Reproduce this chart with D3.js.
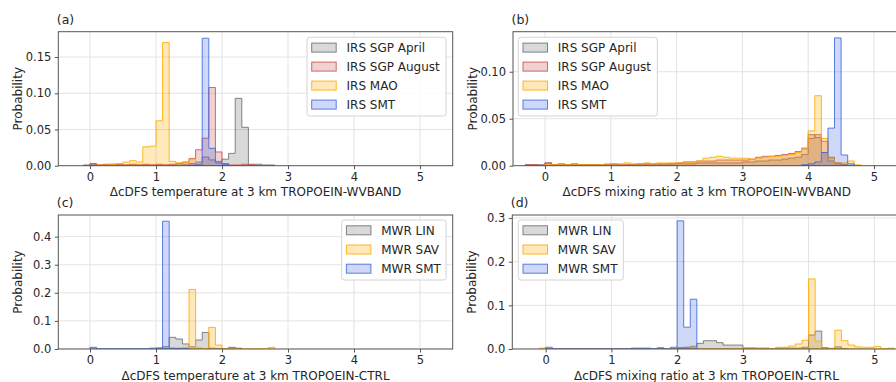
<!DOCTYPE html>
<html>
<head>
<meta charset="utf-8">
<script src="https://cdn.jsdelivr.net/npm/d3@7"></script>
<style>
  html, body { margin: 0; padding: 0; background: #fff; }
  svg { display: block; font-family: "DejaVu Sans", sans-serif; }
</style>
</head>
<body>
<svg id="fig" width="896" height="382"></svg>
<script>
// ---- Histogram data: probability per 0.1-wide bin, listed from a first bin edge ----
const binWidth = 0.1;
const xTickValues = [0, 1, 2, 3, 4, 5];

const irsNames = ["IRS SGP April", "IRS SGP August", "IRS MAO", "IRS SMT"];
const mwrNames = ["MWR LIN", "MWR SAV", "MWR SMT"];

// (a) temperature, TROPOEIN-WVBAND
const aAprilStart = -0.1;
const aApril = [0.001, 0.002, 0.001, 0.001, 0.001, 0.001, 0.001, 0.001, 0.001, 0.001, 0.001, 0.001,
  0.001, 0.001, 0.001, 0.002, 0.003, 0.005, 0.012, 0.008, 0.006, 0.009, 0.017, 0.093, 0.053, 0.002,
  0.002, 0.001, 0.001];
const aAugustStart = 0.0;
const aAugust = [0.003, 0.001, 0.002, 0.002, 0.002, 0.001, 0.002, 0.001, 0.002, 0.001, 0.002, 0.001,
  0.002, 0.003, 0.005, 0.010, 0.022, 0.038, 0.108, 0.019, 0.003, 0.001, 0.001, 0.002, 0.001];
const aMaoStart = 0.1;
const aMao = [0.001, 0.001, 0.002, 0.003, 0.005, 0.007, 0.005, 0.026, 0.027, 0.062, 0.170, 0.006,
  0.004, 0.005, 0.009, 0.001, 0.001];
const aSmtStart = 1.5;
const aSmt = [0.001, 0.002, 0.176, 0.024, 0.004, 0.002];
const aYTicks = [0, 0.05, 0.10, 0.15];

// (b) mixing ratio, TROPOEIN-WVBAND
const bAprilStart = -0.3;
const bApril = [0.001, 0.001, 0.001, 0.003, 0.001, 0.001, 0.001, 0.001, 0.001, 0.001, 0.001, 0.001,
  0.001, 0.001, 0.001, 0.001, 0.001, 0.001, 0.001, 0.001, 0.001, 0.001, 0.002, 0.002, 0.002, 0.002,
  0.003, 0.003, 0.003, 0.003, 0.003, 0.003, 0.003, 0.004, 0.004, 0.005, 0.005, 0.006, 0.006, 0.007,
  0.008, 0.009, 0.012, 0.033, 0.030, 0.014, 0.005, 0.002, 0.001];
const bAugustStart = -0.3;
const bAugust = [0.001, 0.001, 0.000, 0.003, 0.001, 0.002, 0.001, 0.002, 0.001, 0.001, 0.001, 0.001,
  0.001, 0.002, 0.001, 0.001, 0.001, 0.002, 0.002, 0.002, 0.002, 0.002, 0.002, 0.003, 0.004, 0.004,
  0.005, 0.005, 0.005, 0.006, 0.006, 0.006, 0.006, 0.006, 0.007, 0.009, 0.010, 0.010, 0.011, 0.012,
  0.013, 0.015, 0.018, 0.029, 0.033, 0.026, 0.009, 0.003, 0.001];
const bMaoStart = 0.0;
const bMao = [0.001, 0.001, 0.001, 0.001, 0.001, 0.001, 0.001, 0.001, 0.001, 0.002, 0.002, 0.002,
  0.003, 0.002, 0.002, 0.003, 0.002, 0.003, 0.003, 0.003, 0.003, 0.004, 0.004, 0.005, 0.008, 0.009,
  0.010, 0.009, 0.008, 0.008, 0.008, 0.007, 0.008, 0.009, 0.010, 0.010, 0.011, 0.012, 0.014, 0.019,
  0.037, 0.0745, 0.029, 0.008, 0.003, 0.003, 0.005, 0.001];
const bSmtStart = 3.9;
const bSmt = [0.001, 0.002, 0.004, 0.014, 0.040, 0.136, 0.0114, 0.002];
const bYTicks = [0, 0.05, 0.10];

// (c) temperature, TROPOEIN-CTRL
const cLinStart = 1.0;
const cLin = [0.001, 0.008, 0.0415, 0.0356, 0.018, 0.008, 0.032, 0.059, 0.003, 0.002, 0.001, 0.006, 0.003];
const cSavStart = 1.3;
const cSav = [0.003, 0.006, 0.212, 0.004, 0.001, 0.077, 0.014, 0, 0, 0, 0, 0, 0, 0, 0.006];
const cSmtStart = 0.0;
const cSmt = [0.006, 0, 0, 0, 0, 0, 0, 0, 0, 0.003, 0.004, 0.455, 0.003, 0.002, 0.001];
const cYTicks = [0, 0.1, 0.2, 0.3, 0.4];

// (d) mixing ratio, TROPOEIN-CTRL
const dLinStart = 2.0;
const dLin = [0.003, 0.004, 0.006, 0.013, 0.019, 0.019, 0.0145, 0.009, 0.009, 0.009, 0.002, 0.002,
  0.002, 0.002, 0.001, 0.002, 0.002, 0.002, 0.002, 0.004, 0.032, 0.041, 0.003, 0.001, 0.005, 0.001];
const dSavStart = -0.1;
const dSav = [0.002, 0.001, 0, 0, 0, 0, 0, 0, 0, 0, 0, 0, 0, 0, 0, 0, 0, 0, 0, 0, 0, 0, 0, 0.005,
  0, 0, 0, 0, 0, 0, 0, 0.003, 0.003, 0, 0, 0, 0.004, 0.004, 0.007, 0.0115, 0.020, 0.1606, 0.018, 0.001,
  0.002, 0.043, 0.019, 0.009, 0.005, 0.004, 0.004, 0.006, 0.001, 0.002];
const dSmtStart = 0.0;
const dSmt = [0.004, 0, 0, 0, 0, 0, 0, 0, 0, 0, 0, 0, 0, 0.002, 0.002, 0.002, 0, 0.003, 0, 0.004,
  0.2936, 0.050, 0.114];
const dYTicks = [0, 0.1, 0.2, 0.3];

// ---- Series styles ----
const styles = {
  gray:   { fill: "rgba(128,128,128,0.30)", stroke: "rgba(110,110,110,0.85)" },
  red:    { fill: "rgba(205,92,92,0.28)",   stroke: "rgba(205,80,80,0.85)" },
  orange: { fill: "rgba(255,170,0,0.27)",   stroke: "rgba(255,170,0,0.85)" },
  blue:   { fill: "rgba(65,105,225,0.25)",  stroke: "rgba(65,105,225,0.85)" }
};

const panels = [
  {
    tag: "(a)", box: { l: 58.3, r: 452.7, t: 31.7, b: 165.7 }, xDomain: [-0.48, 5.495], yDomain: [0, 0.185],
    yTicks: aYTicks, yFmt: ".2f", xLabel: "ΔcDFS temperature at 3 km TROPOEIN-WVBAND",
    legend: { x: 307, y: 37.3, w: 139, h: 78.7 },
    series: [
      { name: irsNames[0], start: aAprilStart, values: aApril, style: styles.gray },
      { name: irsNames[1], start: aAugustStart, values: aAugust, style: styles.red },
      { name: irsNames[2], start: aMaoStart, values: aMao, style: styles.orange },
      { name: irsNames[3], start: aSmtStart, values: aSmt, style: styles.blue }
    ]
  },
  {
    tag: "(b)", box: { l: 513, r: 906.5, t: 31.7, b: 165.7 }, xDomain: [-0.486, 5.494], yDomain: [0, 0.1426],
    yTicks: bYTicks, yFmt: ".2f", xLabel: "ΔcDFS mixing ratio at 3 km TROPOEIN-WVBAND",
    legend: { x: 518.3, y: 37.3, w: 139, h: 78.7 },
    series: [
      { name: irsNames[0], start: bAprilStart, values: bApril, style: styles.gray },
      { name: irsNames[1], start: bAugustStart, values: bAugust, style: styles.red },
      { name: irsNames[2], start: bMaoStart, values: bMao, style: styles.orange },
      { name: irsNames[3], start: bSmtStart, values: bSmt, style: styles.blue }
    ]
  },
  {
    tag: "(c)", box: { l: 58.3, r: 452.7, t: 215, b: 349 }, xDomain: [-0.48, 5.495], yDomain: [0, 0.477],
    yTicks: cYTicks, yFmt: ".1f", xLabel: "ΔcDFS temperature at 3 km TROPOEIN-CTRL",
    legend: { x: 341.7, y: 220, w: 104.3, h: 60 },
    series: [
      { name: mwrNames[0], start: cLinStart, values: cLin, style: styles.gray },
      { name: mwrNames[1], start: cSavStart, values: cSav, style: styles.orange },
      { name: mwrNames[2], start: cSmtStart, values: cSmt, style: styles.blue }
    ]
  },
  {
    tag: "(d)", box: { l: 512.3, r: 906.5, t: 215, b: 349 }, xDomain: [-0.508, 5.49], yDomain: [0, 0.307],
    yTicks: dYTicks, yFmt: ".1f", xLabel: "ΔcDFS mixing ratio at 3 km TROPOEIN-CTRL",
    legend: { x: 518.3, y: 220, w: 105, h: 60 },
    series: [
      { name: mwrNames[0], start: dLinStart, values: dLin, style: styles.gray },
      { name: mwrNames[1], start: dSavStart, values: dSav, style: styles.orange },
      { name: mwrNames[2], start: dSmtStart, values: dSmt, style: styles.blue }
    ]
  }
];

const svg = d3.select("#fig");
const textColor = "#262626";
const spineColor = "#555";

panels.forEach((p, pi) => {
  const x = d3.scaleLinear().domain(p.xDomain).range([p.box.l, p.box.r]);
  const y = d3.scaleLinear().domain(p.yDomain).range([p.box.b, p.box.t]);
  const g = svg.append("g");
  const clipId = "clip" + pi;
  g.append("clipPath").attr("id", clipId).append("rect")
    .attr("x", p.box.l).attr("y", p.box.t)
    .attr("width", p.box.r - p.box.l).attr("height", p.box.b - p.box.t);

  // grid
  const grid = g.append("g").attr("clip-path", `url(#${clipId})`);
  grid.selectAll(".gx").data(xTickValues).join("line")
    .attr("x1", d => x(d)).attr("x2", d => x(d))
    .attr("y1", p.box.t).attr("y2", p.box.b)
    .attr("stroke", "#e3e3e3").attr("stroke-width", 1);
  grid.selectAll(".gy").data(p.yTicks).join("line")
    .attr("x1", p.box.l).attr("x2", p.box.r)
    .attr("y1", d => y(d)).attr("y2", d => y(d))
    .attr("stroke", "#e3e3e3").attr("stroke-width", 1);

  // step-filled histograms
  const hist = g.append("g").attr("clip-path", `url(#${clipId})`);
  p.series.forEach(s => {
    const edges = s.values.map((_, i) => s.start + i * binWidth);
    let d = `M${x(edges[0])},${y(0)}`;
    s.values.forEach((v, i) => {
      d += `L${x(edges[i])},${y(v)}L${x(edges[i] + binWidth)},${y(v)}`;
    });
    d += `L${x(edges[edges.length - 1] + binWidth)},${y(0)}Z`;
    hist.append("path").attr("d", d)
      .attr("fill", s.style.fill).attr("stroke", s.style.stroke)
      .attr("stroke-width", 1).attr("stroke-linejoin", "miter");
  });

  // axes
  const xAxis = d3.axisBottom(x).tickValues(xTickValues).tickFormat(d3.format("d"))
    .tickSize(3.5).tickPadding(3.5);
  const yAxis = d3.axisLeft(y).tickValues(p.yTicks).tickFormat(d3.format(p.yFmt))
    .tickSize(3.5).tickPadding(3.5);
  const gx = g.append("g").attr("transform", `translate(0,${p.box.b})`).call(xAxis);
  const gy = g.append("g").attr("transform", `translate(${p.box.l},0)`).call(yAxis);
  [gx, gy].forEach(ax => {
    ax.select(".domain").remove();
    ax.selectAll(".tick line").attr("stroke", spineColor);
    ax.selectAll(".tick text").attr("fill", textColor).style("font-size", "11.5px")
      .style("font-family", "DejaVu Sans");
  });

  // frame
  g.append("rect").attr("x", p.box.l).attr("y", p.box.t)
    .attr("width", p.box.r - p.box.l).attr("height", p.box.b - p.box.t)
    .attr("fill", "none").attr("stroke", spineColor).attr("stroke-width", 1);

  // labels
  g.append("text").attr("x", (p.box.l + p.box.r) / 2 + (pi % 2 ? -3 : 0)).attr("y", p.box.b + 30.5)
    .attr("text-anchor", "middle").attr("fill", textColor).style("font-size", "12px")
    .text(p.xLabel);
  g.append("text")
    .attr("transform", `translate(${p.box.l - 36.5},${(p.box.t + p.box.b) / 2}) rotate(-90)`)
    .attr("text-anchor", "middle").attr("fill", textColor).style("font-size", "12px")
    .text("Probability");
  g.append("text").attr("x", p.box.l - 1.5).attr("y", p.box.t - 8)
    .attr("fill", textColor).style("font-size", "12.5px").text(p.tag);

  // legend
  const L = p.legend;
  const lg = g.append("g");
  lg.append("rect").attr("x", L.x).attr("y", L.y).attr("width", L.w).attr("height", L.h)
    .attr("rx", 2.5).attr("fill", "rgba(255,255,255,0.85)").attr("stroke", "#d4d4d4");
  const rowGap = p.series.length === 4 ? 19 : 19.2;
  p.series.forEach((s, i) => {
    const cy = L.y + 10.3 + i * rowGap;
    lg.append("rect").attr("x", L.x + 4.7).attr("y", cy - 4.5).attr("width", 24.5).attr("height", 9)
      .attr("fill", s.style.fill).attr("stroke", s.style.stroke).attr("stroke-width", 1);
    lg.append("text").attr("x", L.x + 39.5).attr("y", cy + 4.4)
      .attr("fill", textColor).style("font-size", "12px").text(s.name);
  });
});
</script>
</body>
</html>
